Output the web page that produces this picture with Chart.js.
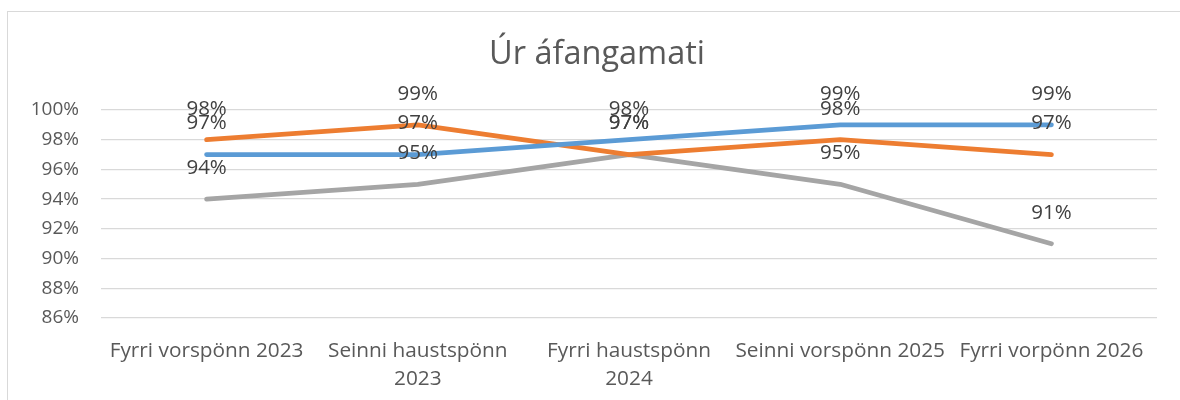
<!DOCTYPE html>
<html>
<head>
<meta charset="utf-8">
<script src="https://cdn.jsdelivr.net/npm/chart.js@4"></script>
<style>
  html, body { margin: 0; padding: 0; background: #fff; }
  #wrap { position: relative; width: 1180px; height: 400px; overflow: hidden; }
  #frame { position: absolute; left: 7px; top: 11px; width: 1180px; height: 400px; border: 1px solid #d9d9d9; box-sizing: border-box; }
  canvas { position: absolute; left: 0; top: 0; }
</style>
</head>
<body>
<div id="wrap">
  <div id="frame"></div>
  <canvas id="myChartLine" width="1180" height="400"></canvas>
</div>
<script>
  var chartTitle = "Úr áfangamati";
  var xValues = [
    "Fyrri vorspönn 2023",
    ["Seinni haustspönn", "2023"],
    ["Fyrri haustspönn", "2024"],
    "Seinni vorspönn 2025",
    "Fyrri vorpönn 2026"
  ];
  var blueValues = [97, 97, 98, 99, 99];
  var orangeValues = [98, 99, 97, 98, 97];
  var grayValues = [94, 95, 97, 95, 91];
  var yTicks = [86, 88, 90, 92, 94, 96, 98, 100];

  var fontName = "'Open Sans', 'Noto Sans', sans-serif";

  // title sits a bit right of the canvas centre in the source, so draw it here
  var titleText = {
    id: "titleText",
    afterDraw: function(chart) {
      var ctx = chart.ctx;
      ctx.save();
      ctx.font = "32.5px " + fontName;
      ctx.fillStyle = "#595959";
      ctx.textAlign = "center";
      ctx.textBaseline = "middle";
      ctx.fillText(chartTitle, 597, 55);
      ctx.restore();
    }
  };

  // labels drawn ~31px above each point, like the source
  var pointLabels = {
    id: "pointLabels",
    afterDatasetsDraw: function(chart) {
      var ctx = chart.ctx;
      ctx.save();
      ctx.font = "20.5px " + fontName;
      ctx.fillStyle = "#404040";
      ctx.textAlign = "center";
      ctx.textBaseline = "middle";
      chart.data.datasets.forEach(function(ds, i) {
        chart.getDatasetMeta(i).data.forEach(function(pt, j) {
          ctx.fillText(ds.data[j] + "%", pt.x, pt.y - 31);
        });
      });
      ctx.restore();
    }
  };

  new Chart("myChartLine", {
    type: "line",
    data: {
      labels: xValues,
      datasets: [{
        label: "Röð 1",
        borderColor: "#5b9bd5",
        backgroundColor: "#5b9bd5",
        data: blueValues
      }, {
        label: "Röð 2",
        borderColor: "#ed7d31",
        backgroundColor: "#ed7d31",
        data: orangeValues
      }, {
        label: "Röð 3",
        borderColor: "#a5a5a5",
        backgroundColor: "#a5a5a5",
        data: grayValues
      }]
    },
    options: {
      responsive: false,
      animation: false,
      layout: { padding: { left: 0, right: 23, top: 110, bottom: 0 } },
      elements: {
        line: { borderWidth: 4.8, tension: 0, borderCapStyle: "round", borderJoinStyle: "round" },
        point: { radius: 0, hoverRadius: 0 }
      },
      plugins: {
        legend: { display: false },
        tooltip: { enabled: false },
        title: { display: false }
      },
      scales: {
        x: {
          offset: true,
          grid: { display: false },
          border: { display: false },
          ticks: {
            color: "#595959",
            font: { family: fontName, size: 20.8, lineHeight: 1.35 },
            padding: 11,
            maxRotation: 0,
            autoSkip: false
          },
          afterFit: function(s) { s.height = 82; }
        },
        y: {
          min: 86,
          max: 100,
          afterBuildTicks: function(s) {
            s.ticks = yTicks.map(function(v) { return { value: v }; });
          },
          grid: { color: "#d9d9d9", lineWidth: 1.3, drawTicks: false },
          border: { display: false },
          ticks: {
            color: "#595959",
            font: { family: fontName, size: 19 },
            padding: 22,
            callback: function(v) { return v + "%"; }
          },
          afterFit: function(s) { s.width = 101; }
        }
      }
    },
    plugins: [pointLabels, titleText]
  });
</script>
</body>
</html>
